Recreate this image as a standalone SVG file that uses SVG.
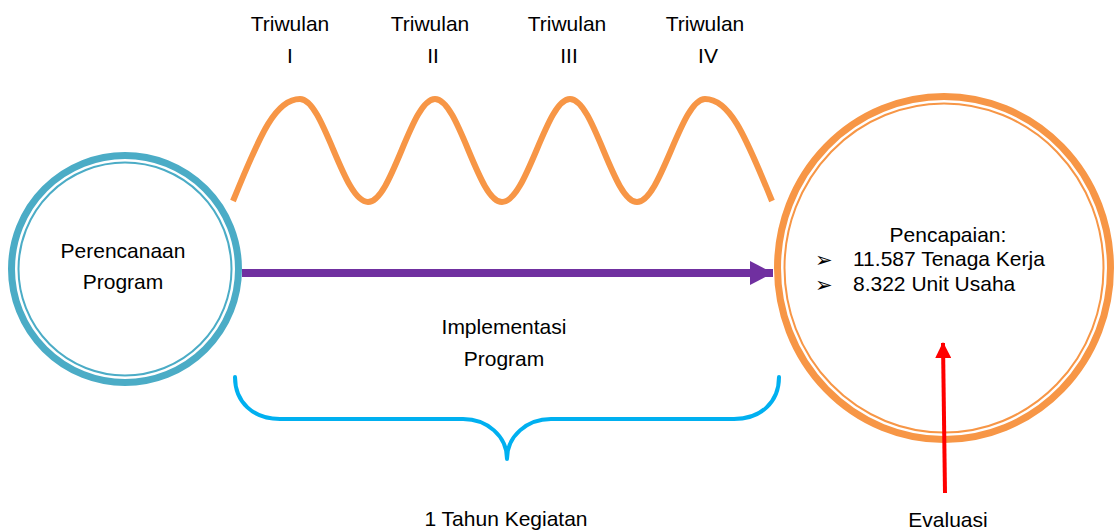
<svg xmlns="http://www.w3.org/2000/svg" width="1114" height="531" viewBox="0 0 1114 531">
  <style>
    .t { font-family: "Liberation Sans", Arial, sans-serif; font-size: 21px; fill: #000; }
    .c { text-anchor: middle; }
    .blt { font-family: "DejaVu Sans", sans-serif; font-size: 21px; fill: #000; }
  </style>
  <defs>
    <marker id="purpleHead" viewBox="0 0 23 24" refX="23" refY="12" markerUnits="userSpaceOnUse" markerWidth="23" markerHeight="24" orient="auto">
      <path d="M0,0 L23,12 L0,24 Z" fill="#7030A0"/>
    </marker>
    <marker id="redHead" viewBox="0 0 16 16" refX="15" refY="8" markerUnits="userSpaceOnUse" markerWidth="16" markerHeight="16" orient="auto">
      <path d="M0,0 L16,8 L0,16 Z" fill="#FF0000"/>
    </marker>
  </defs>
  <rect width="1114" height="531" fill="#fff"/>

  <g id="labels-triwulan">
    <text class="t c" x="290" y="31">Triwulan</text>
    <text class="t c" x="290" y="63">I</text>
    <text class="t c" x="430" y="31">Triwulan</text>
    <text class="t c" x="433" y="63">II</text>
    <text class="t c" x="567" y="31">Triwulan</text>
    <text class="t c" x="569" y="63">III</text>
    <text class="t c" x="705" y="31">Triwulan</text>
    <text class="t c" x="708" y="63">IV</text>
  </g>

  <g id="wave">
    <path d="M233,201 C261,132 276,99 300,99 C324,99 343,202 368,202 C392,202 411,99 435,99 C459,99 478,202 502,202 C527,202 546,99 570,99 C594,99 613,202 637,202 C661,202 681,99 705,99 C729,99 744,132 772,201" fill="none" stroke="#F79646" stroke-width="6"/>
  </g>

  <g id="node-perencanaan">
    <circle cx="125" cy="269" r="113.5" fill="#fff" stroke="#4BACC6" stroke-width="7"/>
    <circle cx="125" cy="269" r="106.5" fill="none" stroke="#4BACC6" stroke-width="2"/>
    <text class="t c" x="123" y="258">Perencanaan</text>
    <text class="t c" x="123" y="289">Program</text>
  </g>

  <g id="node-pencapaian">
    <ellipse cx="944" cy="268" rx="166.5" ry="171.5" fill="#fff" stroke="#F79646" stroke-width="7"/>
    <ellipse cx="944" cy="268" rx="159.5" ry="164.5" fill="none" stroke="#F79646" stroke-width="2"/>
    <text class="t c" x="948" y="242">Pencapaian:</text>
    <text class="blt" x="815" y="267">➢</text>
    <text class="t" x="853" y="266">11.587 Tenaga Kerja</text>
    <text class="blt" x="815" y="292">➢</text>
    <text class="t" x="853" y="291">8.322 Unit Usaha</text>
  </g>

  <g id="connectors">
    <line x1="242" y1="273" x2="773" y2="273" stroke="#7030A0" stroke-width="8" marker-end="url(#purpleHead)"/>
    <path d="M235,377 C235,402 253,419 280,419 L463,419 C487,419 507,436 507,459 C507,436 527,419 551,419 L734,419 C761,419 779,402 779,377" fill="none" stroke="#00B0F0" stroke-width="4" stroke-linecap="round" stroke-linejoin="round"/>
    <line x1="945" y1="493" x2="943" y2="343" stroke="#FF0000" stroke-width="4" marker-end="url(#redHead)"/>
  </g>

  <g id="labels-bottom">
    <text class="t c" x="504" y="334">Implementasi</text>
    <text class="t c" x="504" y="366">Program</text>
    <text class="t c" x="506" y="526">1 Tahun Kegiatan</text>
    <text class="t c" x="948" y="527">Evaluasi</text>
  </g>
</svg>
